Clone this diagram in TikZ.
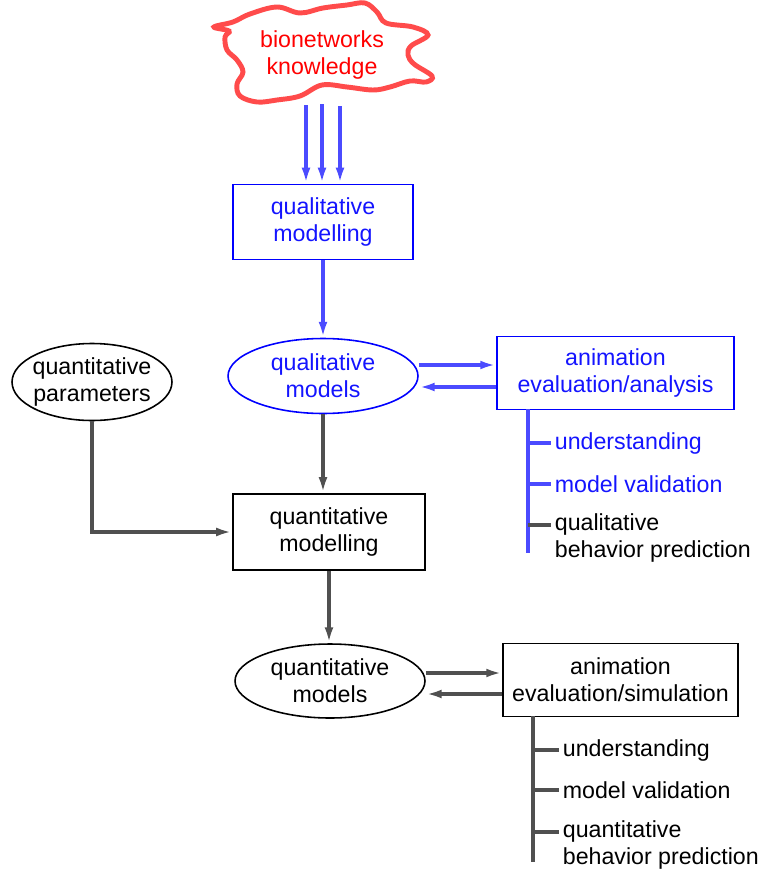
\documentclass[tikz,border=0pt]{standalone}
\usepackage{fontspec}
\setmainfont{Liberation Sans}
\usetikzlibrary{arrows.meta,calc,shapes.geometric}
\definecolor{cloudred}{RGB}{255,75,75}
\definecolor{arrblue}{RGB}{75,75,255}
\definecolor{txtblue}{RGB}{20,20,255}
\definecolor{darkgray}{RGB}{80,80,80}

\begin{document}
\begin{tikzpicture}[x=0.02cm,y=-0.02cm,
  font=\fontsize{13.2}{15.5}\selectfont,
  box/.style={rectangle,draw,line width=1.1pt,align=center,inner sep=0pt},
  oval/.style={ellipse,draw,line width=0.9pt,align=center,inner sep=0pt},
  item/.style={anchor=west,align=left,inner sep=2pt},
  blarr/.style={arrblue,line width=1.8pt,-{Latex[length=9pt,width=5pt]}},
  grarr/.style={darkgray,line width=2pt,-{Latex[length=9pt,width=5pt]}},
  blline/.style={arrblue,line width=1.8pt},
  grline/.style={darkgray,line width=2pt}]
  \useasboundingbox (0,0) rectangle (762,872);

  % cloud
  \draw[cloudred,line width=2.8pt] plot[smooth cycle,tension=0.6] coordinates {
    (214,27) (233,22) (250,14) (277,7) (300,13) (323,8) (347,5) (365,3)
    (377,12) (386,23) (413,27) (428,35) (411,46) (408,55) (414,64) (432,76)
    (426,82) (410,81) (390,87) (373,90) (347,87) (322,85) (300,96) (277,100)
    (257,102) (240,96) (237,84) (243,72) (237,60) (227,50) (225,37) (229,31)};
  \node[red,align=center] (bio) at (322,55) {bionetworks\\knowledge};

  % qualitative part
  \node[box,blue,text=txtblue,minimum width=3.6cm,minimum height=1.5cm] (qlm) at (323,222) {qualitative\\modelling};
  \node[oval,blue,text=txtblue,minimum width=3.8cm,minimum height=1.5cm] (qlmod) at (323,376) {qualitative\\models};
  \node[box,blue,text=txtblue,minimum width=4.74cm,minimum height=1.46cm] (anl) at (615.5,373) {animation\\evaluation/analysis};

  \coordinate (c1) at (306,105);
  \coordinate (c2) at (322,104);
  \coordinate (c3) at (340,106);
  \draw[blarr] (c1) -- (c1 |- qlm.north);
  \draw[blarr] (c2) -- (c2 |- qlm.north);
  \draw[blarr] (c3) -- (c3 |- qlm.north);
  \draw[blarr] (qlm.south) -- (qlmod.north);
  \draw[blarr] ([yshift=0.22cm]qlmod.east) -- ([yshift=0.22cm]qlmod.east -| anl.west);
  \draw[blarr] ([yshift=-0.22cm]qlmod.east -| anl.west) -- ([yshift=-0.22cm]qlmod.east);

  % qualitative results
  \coordinate (sp1) at (528,409);
  \coordinate (sp1e) at (528,553);
  \node[item,text=txtblue] (u1) at (551,443) {understanding};
  \node[item,text=txtblue] (v1) at (551,484) {model validation};
  \node[item] (p1) at (551,538) {qualitative\\behavior prediction};
  \coordinate (t1) at ($(p1.west)+(0,-13)$);
  \draw[blline] (sp1) -- (sp1e);
  \draw[blline] (sp1 |- u1.west) -- (u1.west);
  \draw[blline] (sp1 |- v1.west) -- (v1.west);
  \draw[grline] (sp1 |- t1) -- (t1);

  % quantitative part
  \node[oval,inner xsep=-2pt,minimum width=3.2cm,minimum height=1.54cm] (qpar) at (92,382) {quantitative\\parameters};
  \node[box,minimum width=3.84cm,minimum height=1.52cm] (qnm) at (329,532) {quantitative\\modelling};
  \node[oval,minimum width=3.8cm,minimum height=1.48cm] (qnmod) at (330,681) {quantitative\\models};
  \node[box,minimum width=4.7cm,minimum height=1.46cm] (sim) at (620.5,680) {animation\\evaluation/simulation};

  \draw[grarr] (qlmod.south) -- (qlmod.south |- qnm.north);
  \draw[grarr] (qpar.south) |- (qnm.west);
  \draw[grarr] (qnm.south) -- (qnm.south |- qnmod.north);
  \draw[grarr] ([yshift=0.16cm]qnmod.east) -- ([yshift=0.16cm]qnmod.east -| sim.west);
  \draw[grarr] ([yshift=-0.26cm]qnmod.east -| sim.west) -- ([yshift=-0.26cm]qnmod.east);

  % quantitative results
  \coordinate (sp2) at (533,716);
  \coordinate (sp2e) at (533,862);
  \node[item] (u2) at (559,750) {understanding};
  \node[item] (v2) at (559,790) {model validation};
  \node[item] (p2) at (559,845) {quantitative\\behavior prediction};
  \coordinate (t2) at ($(p2.west)+(0,-13)$);
  \draw[grline] (sp2) -- (sp2e);
  \draw[grline] (sp2 |- u2.west) -- (u2.west);
  \draw[grline] (sp2 |- v2.west) -- (v2.west);
  \draw[grline] (sp2 |- t2) -- (t2);
\end{tikzpicture}
\end{document}
